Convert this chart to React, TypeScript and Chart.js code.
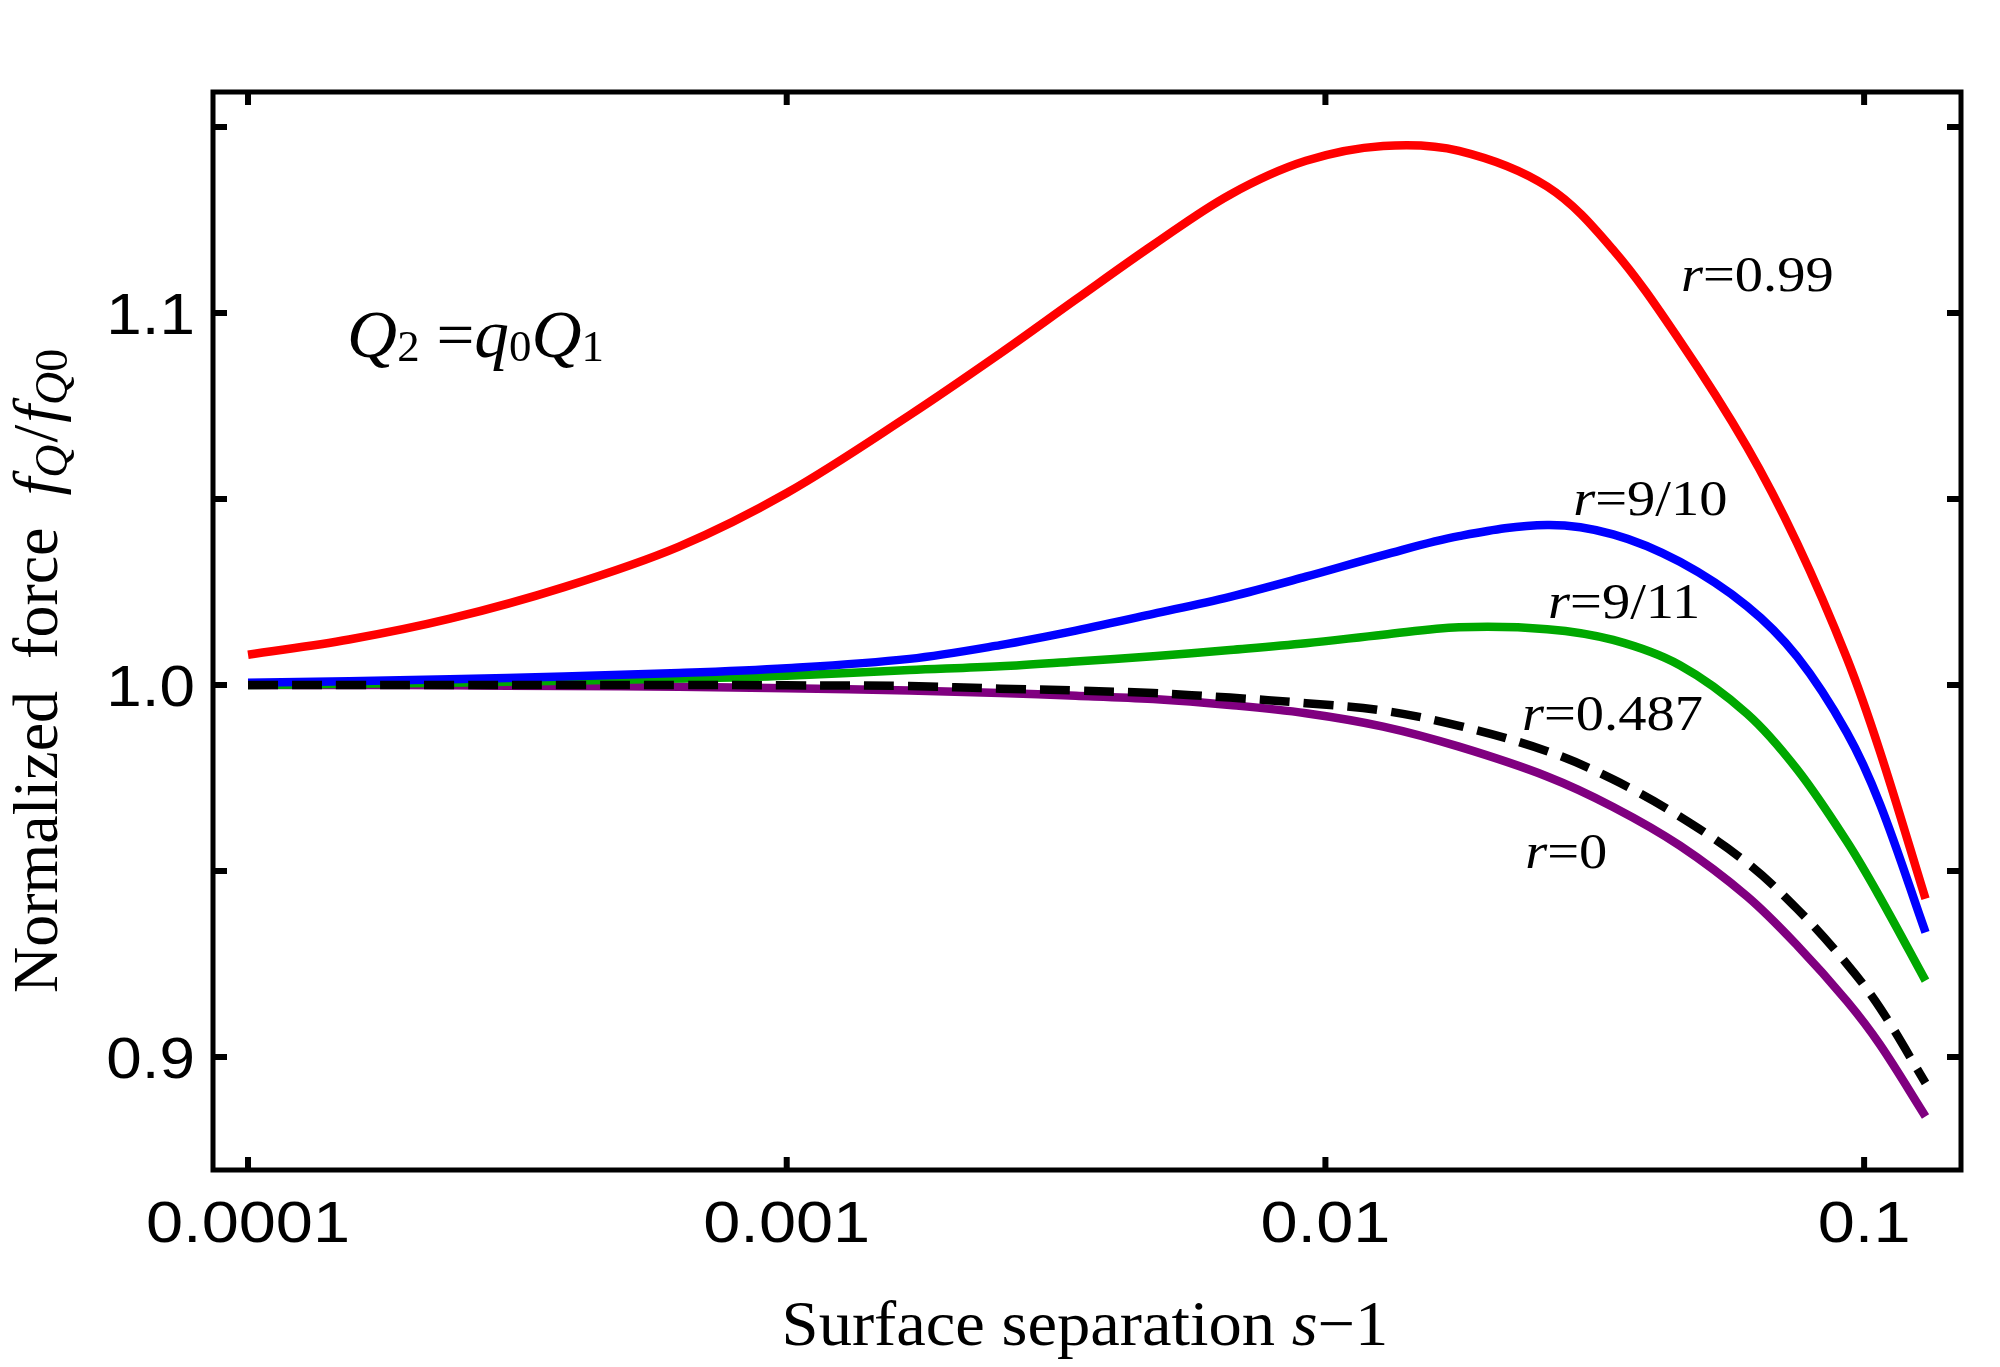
import React, { useEffect, useRef } from "react";
import { Chart, registerables } from "chart.js";

Chart.register(...registerables);

const W = 2000;
const H = 1367;

const separation = [
  0.0001, 0.000154, 0.000237, 0.000386, 0.000631, 0.001, 0.00169, 0.00249,
  0.00344, 0.00479, 0.00665, 0.0092, 0.0128, 0.0177, 0.0258, 0.0342, 0.0455,
  0.0606, 0.0751, 0.0929, 0.107, 0.13,
];

// Normalized force f_Q / f_Q0 for each r
const forceR099 = [
  1.0081, 1.0122, 1.0178, 1.0263, 1.0372, 1.0516, 1.0725, 1.0891, 1.1036,
  1.1183, 1.1318, 1.1409, 1.1449, 1.1436, 1.134, 1.117, 1.0925, 1.064,
  1.0381, 1.0072, 0.9821, 0.9425,
];
const forceR9over10 = [
  1.0006, 1.001, 1.0015, 1.0023, 1.0032, 1.0045, 1.007, 1.0107, 1.0146,
  1.0191, 1.0237, 1.0291, 1.0349, 1.04, 1.043, 1.0405, 1.0331, 1.0212,
  1.0076, 0.9872, 0.968, 0.9335,
];
const forceR9over11 = [
  1.0, 1.0003, 1.0006, 1.0011, 1.0017, 1.0025, 1.004, 1.005, 1.0063, 1.0077,
  1.0094, 1.0112, 1.0135, 1.0155, 1.015, 1.0121, 1.0053, 0.9923, 0.9773,
  0.9579, 0.9429, 0.9205,
];
const forceR0487 = [
  1.0, 1.0, 1.0, 1.0, 1.0, 0.9999, 0.9997, 0.999, 0.9985, 0.9978, 0.9966,
  0.9951, 0.9931, 0.989, 0.9822, 0.9746, 0.9646, 0.9522, 0.9398, 0.925,
  0.9132, 0.893,
];
const forceR0 = [
  1.0, 1.0, 0.9999, 0.9997, 0.9995, 0.9991, 0.9985, 0.9978, 0.9971, 0.9962,
  0.9946, 0.9924, 0.9888, 0.9834, 0.9754, 0.9672, 0.9568, 0.9432, 0.93,
  0.915, 0.9033, 0.884,
];

const xTickValues = [0.0001, 0.001, 0.01, 0.1];
const xTickLabels = ["0.0001", "0.001", "0.01", "0.1"];
const yTickValues = [0.9, 0.95, 1.0, 1.05, 1.1, 1.15];
const yLabelValues = [0.9, 1.0, 1.1];
const yTickLabels = ["0.9", "1.0", "1.1"];

const curveNames = ["r=0.487", "r=9/10", "r=9/11", "r=0", "r=0.99"];
const curveColors = ["#000000", "#0000ff", "#00a800", "#800080", "#ff0000"];

const X_MIN = 8.61e-5;
const X_MAX = 0.1513;
const Y_MIN = 0.8696;
const Y_MAX = 1.1594;

const SERIF = '"Liberation Serif", "DejaVu Serif", serif';
const SANS = '"Liberation Sans", Arial, sans-serif';

type Run = { text: string; font: string; dy?: number; dx?: number };

function drawRuns(
  ctx: CanvasRenderingContext2D,
  runs: Run[],
  x: number,
  y: number,
  hscale: number,
  align: "left" | "center" | "right",
  rotate = 0
) {
  ctx.save();
  ctx.translate(x, y);
  if (rotate) ctx.rotate(rotate);
  ctx.scale(hscale, 1);
  ctx.textAlign = "left";
  ctx.textBaseline = "alphabetic";
  ctx.fillStyle = "#000";
  let total = 0;
  for (const r of runs) {
    ctx.font = r.font;
    total += ctx.measureText(r.text).width + (r.dx || 0);
  }
  let cx = align === "center" ? -total / 2 : align === "right" ? -total : 0;
  for (const r of runs) {
    ctx.font = r.font;
    cx += r.dx || 0;
    ctx.fillText(r.text, cx, r.dy || 0);
    cx += ctx.measureText(r.text).width;
  }
  ctx.restore();
}

export default function App() {
  const ref = useRef<HTMLCanvasElement | null>(null);

  useEffect(() => {
    document.body.style.margin = "0";
    document.body.style.overflow = "hidden";
    const canvas = ref.current;
    if (!canvas) return;

    const series = [forceR0487, forceR9over10, forceR9over11, forceR0, forceR099];

    const decor = {
      id: "decor",
      afterDraw(chart: any) {
        const ctx: CanvasRenderingContext2D = chart.ctx;
        const { left, right, top, bottom } = chart.chartArea;
        const xs = chart.scales.x;
        const ys = chart.scales.y;
        ctx.save();
        // frame
        ctx.strokeStyle = "#000";
        ctx.lineWidth = 5;
        ctx.strokeRect(left, top, right - left, bottom - top);
        // ticks inside on all sides
        ctx.lineWidth = 6;
        ctx.beginPath();
        for (const v of xTickValues) {
          const px = xs.getPixelForValue(v);
          ctx.moveTo(px, bottom);
          ctx.lineTo(px, bottom - 13);
          ctx.moveTo(px, top);
          ctx.lineTo(px, top + 13);
        }
        for (const v of yTickValues) {
          const py = ys.getPixelForValue(v);
          ctx.moveTo(left, py);
          ctx.lineTo(left + 14, py);
          ctx.moveTo(right, py);
          ctx.lineTo(right - 14, py);
        }
        ctx.stroke();
        ctx.restore();

        // tick labels
        xTickValues.forEach((v, i) => {
          const px = xs.getPixelForValue(v);
          drawRuns(ctx, [{ text: xTickLabels[i], font: `58px ${SANS}` }], px, bottom + 72, 1.15, "center");
        });
        yLabelValues.forEach((v, i) => {
          const py = ys.getPixelForValue(v);
          drawRuns(ctx, [{ text: yTickLabels[i], font: `58px ${SANS}` }], left - 18, py + 21, 1.1, "right");
        });

        // axis titles
        drawRuns(
          ctx,
          [
            { text: "Surface separation ", font: `64px ${SERIF}` },
            { text: "s", font: `italic 64px ${SERIF}` },
            { text: "\u22121", font: `64px ${SERIF}` },
          ],
          (left + right) / 2 - 2,
          1345,
          1.04,
          "center"
        );
        drawRuns(
          ctx,
          [
            { text: "Normalized  force  ", font: `64px ${SERIF}` },
            { text: "f", font: `italic 64px ${SERIF}` },
            { text: "Q", font: `italic 46px ${SERIF}`, dy: 10 },
            { text: "/", font: `64px ${SERIF}`, dx: 2 },
            { text: "f", font: `italic 64px ${SERIF}`, dx: 2 },
            { text: "Q", font: `italic 46px ${SERIF}`, dy: 10 },
            { text: "0", font: `46px ${SERIF}`, dy: 10 },
          ],
          57,
          993,
          1.0,
          "left",
          -Math.PI / 2
        );

        // in-plot annotation
        drawRuns(
          ctx,
          [
            { text: "Q", font: `italic 68px ${SERIF}` },
            { text: "2", font: `44px ${SERIF}`, dy: 4 },
            { text: " =", font: `66px ${SERIF}` },
            { text: "q", font: `italic 68px ${SERIF}` },
            { text: "0", font: `44px ${SERIF}`, dy: 4 },
            { text: "Q", font: `italic 68px ${SERIF}` },
            { text: "1", font: `44px ${SERIF}`, dy: 4 },
          ],
          xs.getPixelForValue(0.0001527),
          ys.getPixelForValue(1.0882),
          1.02,
          "left"
        );

        // curve labels anchored in data coordinates
        const labelAnchors: [number, number][] = [
          [0.02317, 0.9879],
          [0.02884, 1.0457],
          [0.0259, 1.018],
          [0.02349, 0.9508],
          [0.0457, 1.1059],
        ];
        curveNames.forEach((name, i) => {
          const [ax, ay] = labelAnchors[i];
          drawRuns(
            ctx,
            [
              { text: "r", font: `italic 50px ${SERIF}` },
              { text: name.slice(1), font: `50px ${SERIF}` },
            ],
            xs.getPixelForValue(ax),
            ys.getPixelForValue(ay),
            1.13,
            "left"
          );
        });
      },
    };

    const chart = new Chart(canvas, {
      type: "line",
      data: {
        datasets: series.map((vals, i) => ({
          label: curveNames[i],
          data: separation.map((s, j) => ({ x: s, y: vals[j] })),
          borderColor: curveColors[i],
          backgroundColor: curveColors[i],
          borderWidth: 8.5,
          borderDash: i === 0 ? [30, 14] : [],
          borderCapStyle: "butt",
          borderJoinStyle: "round",
          pointRadius: 0,
          fill: false,
          tension: 0.35,
        })),
      },
      options: {
        animation: false,
        responsive: false,
        devicePixelRatio: 1,
        events: [],
        layout: { padding: { left: 0, right: W - 1961, top: 92, bottom: 0 } },
        plugins: { legend: { display: false }, tooltip: { enabled: false } },
        scales: {
          x: {
            type: "logarithmic",
            min: X_MIN,
            max: X_MAX,
            grid: { display: false },
            border: { display: false },
            ticks: { display: false },
            afterFit: (s: any) => {
              s.height = H - 1170;
            },
          },
          y: {
            type: "linear",
            min: Y_MIN,
            max: Y_MAX,
            grid: { display: false },
            border: { display: false },
            ticks: { display: false },
            afterFit: (s: any) => {
              s.width = 213;
            },
          },
        },
      } as any,
      plugins: [decor],
    } as any);

    return () => chart.destroy();
  }, []);

  return (
    <div style={{ position: "absolute", left: 0, top: 0, width: W, height: H, background: "#fff" }}>
      <canvas ref={ref} width={W} height={H} style={{ display: "block", width: W, height: H }} />
    </div>
  );
}
